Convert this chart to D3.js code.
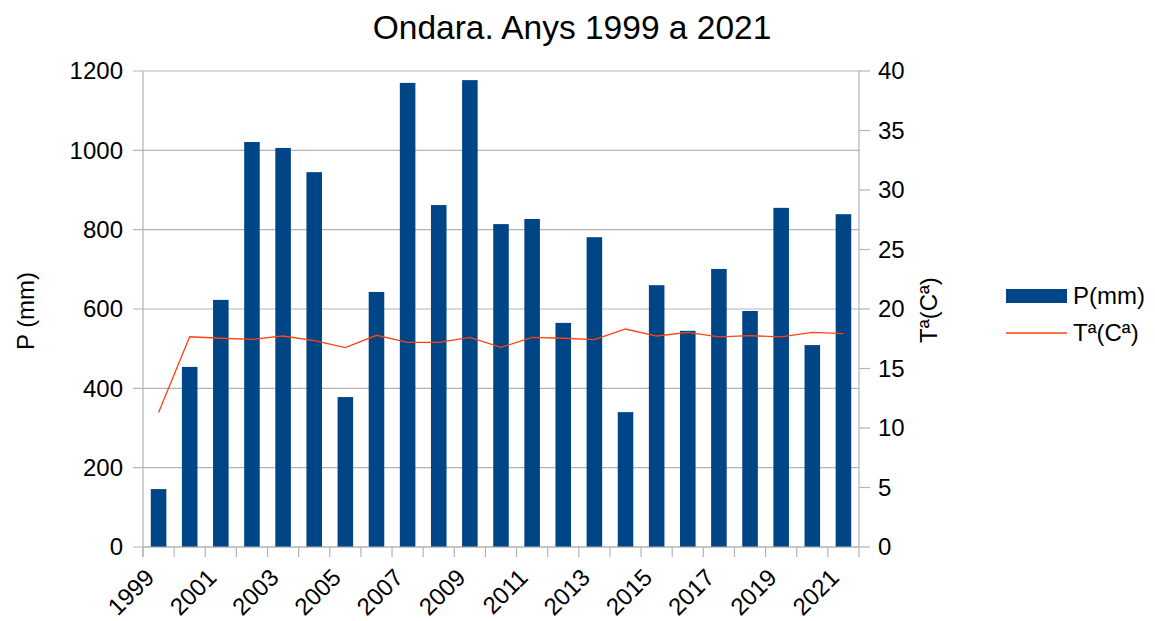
<!DOCTYPE html>
<html>
<head>
<meta charset="utf-8">
<script src="https://cdn.jsdelivr.net/npm/d3@7"></script>
<style>
  body { margin: 0; background: #fff; }
  text { font-family: "Liberation Sans", Arial, sans-serif; fill: #000; }
</style>
</head>
<body>
<script>
// data
const years = ["1999","2000","2001","2002","2003","2004","2005","2006","2007","2008","2009",
               "2010","2011","2012","2013","2014","2015","2016","2017","2018","2019","2020","2021"];
const precip = [146, 454, 623, 1021, 1006, 945, 378, 643, 1170, 862, 1177,
                814, 827, 565, 781, 340, 660, 545, 701, 595, 855, 509, 839];
const temp = [11.3, 17.67, 17.54, 17.45, 17.73, 17.34, 16.75, 17.79, 17.2, 17.2, 17.62,
              16.78, 17.62, 17.54, 17.43, 18.32, 17.73, 18.04, 17.65, 17.76, 17.65, 18.04, 17.93];
const leftTicks = [0, 200, 400, 600, 800, 1000, 1200];
const rightTicks = [0, 5, 10, 15, 20, 25, 30, 35, 40];

const width = 1155, height = 621;
const plotL = 143, plotR = 859, plotT = 71, plotB = 547;
const barColor = "#004586", lineColor = "#ff420e", gridColor = "#b3b3b3";

const svg = d3.select("body").append("svg")
    .attr("width", width)
    .attr("height", height);

const x = d3.scaleBand().domain(years).range([plotL, plotR])
    .paddingInner(0.5).paddingOuter(0.25);
const step = x.step();
const yL = d3.scaleLinear().domain([0, 1200]).range([plotB, plotT]);
const yR = d3.scaleLinear().domain([0, 40]).range([plotB, plotT]);

// grid lines
svg.append("g").selectAll("line")
    .data(leftTicks)
    .enter().append("line")
    .attr("x1", plotL - 10).attr("x2", plotR)
    .attr("y1", d => yL(d)).attr("y2", d => yL(d))
    .attr("stroke", gridColor).attr("stroke-width", 1.2);

// bars
svg.append("g").selectAll("rect")
    .data(precip)
    .enter().append("rect")
    .attr("x", (d, i) => x(years[i]))
    .attr("y", d => yL(d))
    .attr("width", x.bandwidth())
    .attr("height", d => plotB - yL(d))
    .attr("fill", barColor);

// left axis
svg.append("line")
    .attr("x1", plotL).attr("x2", plotL)
    .attr("y1", plotT).attr("y2", plotB + 10)
    .attr("stroke", gridColor).attr("stroke-width", 1.2);
svg.append("g").selectAll("text")
    .data(leftTicks)
    .enter().append("text")
    .attr("x", plotL - 20)
    .attr("y", d => yL(d))
    .attr("dy", "0.35em")
    .attr("text-anchor", "end")
    .style("font-size", "24px")
    .text(d => d);

// right axis
svg.append("line")
    .attr("x1", plotR).attr("x2", plotR)
    .attr("y1", plotT).attr("y2", plotB)
    .attr("stroke", gridColor).attr("stroke-width", 1.2);
svg.append("g").selectAll("line")
    .data(rightTicks)
    .enter().append("line")
    .attr("x1", plotR).attr("x2", plotR + 11)
    .attr("y1", d => yR(d)).attr("y2", d => yR(d))
    .attr("stroke", gridColor).attr("stroke-width", 1.2);
svg.append("g").selectAll("text")
    .data(rightTicks)
    .enter().append("text")
    .attr("x", plotR + 19)
    .attr("y", d => yR(d))
    .attr("dy", "0.35em")
    .style("font-size", "24px")
    .text(d => d);

// bottom axis
svg.append("line")
    .attr("x1", plotL).attr("x2", plotR)
    .attr("y1", plotB).attr("y2", plotB)
    .attr("stroke", gridColor).attr("stroke-width", 1.2);
svg.append("g").selectAll("line")
    .data(d3.range(years.length + 1))
    .enter().append("line")
    .attr("x1", i => plotL + i * step).attr("x2", i => plotL + i * step)
    .attr("y1", plotB).attr("y2", plotB + 10)
    .attr("stroke", gridColor).attr("stroke-width", 1.2);
svg.append("g").selectAll("text")
    .data(years.filter((d, i) => i % 2 === 0))
    .enter().append("text")
    .attr("transform", d => `translate(${x(d) + x.bandwidth() / 2 - 3},${plotB + 32}) rotate(-45)`)
    .attr("text-anchor", "end")
    .style("font-size", "24px")
    .text(d => d);

// temperature line
const line = d3.line()
    .x((d, i) => x(years[i]) + x.bandwidth() / 2)
    .y(d => yR(d));
svg.append("path")
    .datum(temp)
    .attr("d", line)
    .attr("fill", "none")
    .attr("stroke", lineColor)
    .attr("stroke-width", 1.3);

// title
svg.append("text")
    .attr("x", 572).attr("y", 39)
    .attr("text-anchor", "middle")
    .style("font-size", "33.5px")
    .text("Ondara. Anys 1999 a 2021");

// axis titles
svg.append("text")
    .attr("transform", "translate(34,311) rotate(-90)")
    .attr("text-anchor", "middle")
    .style("font-size", "24px")
    .text("P (mm)");
svg.append("text")
    .attr("transform", "translate(937,310) rotate(-90)")
    .attr("text-anchor", "middle")
    .style("font-size", "24px")
    .text("Tª(Cª)");

// legend
const legend = svg.append("g");
legend.append("rect")
    .attr("x", 1006).attr("y", 289)
    .attr("width", 61).attr("height", 14)
    .attr("fill", barColor);
legend.append("text")
    .attr("x", 1073).attr("y", 296)
    .attr("dy", "0.35em")
    .style("font-size", "24px")
    .text("P(mm)");
legend.append("line")
    .attr("x1", 1006).attr("x2", 1067)
    .attr("y1", 333).attr("y2", 333)
    .attr("stroke", lineColor).attr("stroke-width", 1.3);
legend.append("text")
    .attr("x", 1073).attr("y", 333)
    .attr("dy", "0.35em")
    .style("font-size", "24px")
    .text("Tª(Cª)");
</script>
</body>
</html>
